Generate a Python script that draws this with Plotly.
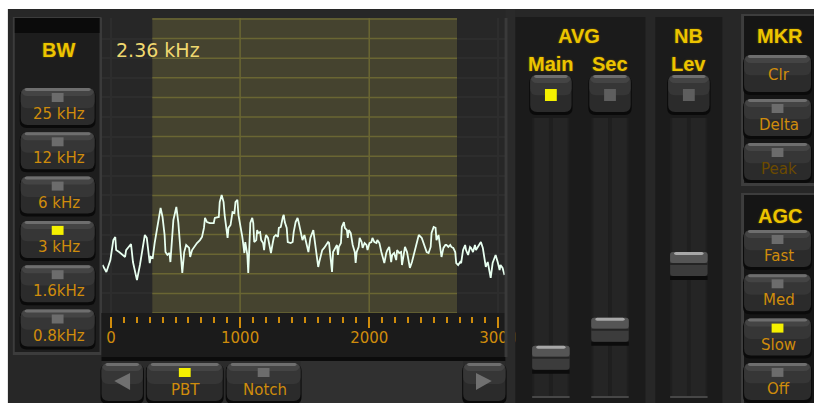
import plotly.graph_objects as go

# ---------------- data ----------------
freq_hz = [
    -66, -36, -5, 18, 33, 40, 63, 79, 94, 109, 117, 147, 155, 170, 185, 201, 224, 247, 262, 277,
    300, 308, 323, 338, 361, 376, 384, 399, 415, 422, 437, 453, 460, 483, 499, 506, 521, 537, 544, 552,
    567, 582, 605, 613, 628, 643, 666, 689,
    705, 720, 728, 743, 766, 796, 804, 835, 842, 857, 872, 880, 895, 903, 910, 926, 941, 956, 964, 979,
    987, 1002, 1017, 1025, 1033, 1040, 1056, 1063, 1071, 1079, 1094, 1102, 1109, 1125, 1132, 1140, 1155,
    1163, 1178, 1186, 1193, 1201, 1216, 1224, 1239, 1254, 1262, 1277, 1293, 1300, 1315, 1331, 1338, 1346,
    1361, 1369, 1392, 1407, 1415, 1430, 1445, 1453, 1468, 1483, 1498, 1514, 1529, 1544,
    1559, 1567, 1575, 1590, 1605, 1613, 1628, 1636, 1651, 1666, 1681, 1689, 1697, 1712, 1720, 1735, 1750,
    1758, 1765, 1781, 1788, 1804, 1811, 1827, 1834, 1842, 1857, 1872, 1888, 1895, 1903, 1918, 1926, 1941,
    1949, 1964, 1979, 1987, 2002, 2017, 2025, 2040, 2056, 2063, 2079, 2094, 2102, 2117, 2132, 2140, 2155,
    2170, 2178, 2193, 2209, 2216, 2232, 2247, 2254, 2262, 2277, 2293, 2300, 2315, 2331, 2346,
    2361, 2369, 2384, 2407, 2422, 2438, 2445, 2460, 2476, 2483, 2499, 2514, 2521, 2537, 2552, 2560, 2575,
    2590, 2598, 2613, 2628, 2636, 2651, 2666, 2674, 2689, 2705, 2712, 2727, 2743, 2750, 2766, 2781, 2789,
    2804, 2819, 2827, 2842, 2857, 2865, 2880, 2895, 2903, 2918, 2934, 2941, 2956, 2972, 2979, 2995, 3010,
    3017, 3033, 3048,
]
level = [
    24.5, 20.9, 27, 37.2, 38.8, 32.1, 31.1, 30.1, 29.6, 28.6, 32.1, 34.7, 35.2, 26, 21.9, 16.8, 24.5, 34.7, 39.8, 38.3,
    25.5, 28.6, 28.1, 35.7, 44.9, 51, 53.6, 49, 39.8, 31.1, 29.6, 30.6, 26, 47.4, 51.5, 54.1, 46.4, 34.7, 26, 20.4,
    31.1, 34.7, 33.2, 28.6, 32.1, 33.7, 35.7, 37.2,
    38.8, 43.4, 48.5, 46.4, 45.9, 45.9, 48.5, 49, 56.6, 60.2, 56.6, 50, 41.3, 38.3, 43.4, 44.9, 51.5, 51, 56.6, 57.7,
    50, 44.9, 38.8, 34.7, 30.6, 36.2, 29.6, 20.4, 39.8, 45.9, 48.5, 45.9, 36.2, 37.2, 42.3, 40.8, 41.3,
    37.2, 35.7, 32.1, 37.2, 39.8, 38.3, 35.7, 30.6, 36.2, 38.8, 39.8, 38.8, 43.4, 43.9, 49, 50, 46.4,
    43.4, 36.2, 35.7, 36.2, 41.3, 46.4, 48.5, 46.4, 41.3, 37.2, 39.8, 35.7, 31.1, 38.3,
    41.3, 42.3, 38.3, 31.1, 23.5, 26, 29.6, 32.1, 33.2, 34.7, 36.2, 35.7, 29.6, 20.9, 31.1, 33.2, 34.7,
    29.6, 33.7, 35.7, 43.9, 46.4, 43.4, 42.3, 38.3, 42.3, 40.8, 34.7, 31.1, 25.5, 31.1, 33.7, 38.3, 36.2,
    33.2, 35.7, 34.7, 32.1, 35.7, 36.2, 38.3, 36.2, 35.7, 37.2, 35.7, 31.1, 28.6, 25.5, 30.6, 32.1, 33.7,
    26, 29.6, 30.6, 27, 32.1, 30.6, 31.1, 24.5, 28.6, 33.7, 31.1, 28.6, 23, 26, 29.6,
    33.7, 35.7, 39.8, 38.3, 35.7, 33.2, 31.1, 30.6, 33.7, 40.8, 43.9, 43.4, 37.2, 39.8, 32.1, 28.6, 33.2,
    34.7, 34.7, 33.7, 34.7, 33.7, 33.2, 31.1, 25.5, 24.5, 26, 25.5, 32.1, 34.7, 32.1, 29.6, 33.7, 33.2,
    31.1, 34.7, 32.1, 33.7, 35.7, 36.2, 33.2, 25.5, 23.5, 26, 20.9, 17.9, 25.5, 28.6, 29.6, 26, 21.9,
    24.5, 23, 19.4,
]
x_tick_vals = [0, 1000, 2000, 3000]
x_tick_text = ["0", "1000", "2000", "3000"]
passband_hz = [320, 2680]
bandwidth_label = "2.36 kHz"
bw_buttons = ["25 kHz", "12 kHz", "6 kHz", "3 kHz", "1.6kHz", "0.8kHz"]
bw_selected = "3 kHz"
mkr_buttons = ["Clr", "Delta", "Peak"]
agc_buttons = ["Fast", "Med", "Slow", "Off"]
agc_selected = "Slow"
bottom_buttons = ["PBT", "Notch"]
bottom_selected = "PBT"
slider_names = ["Main", "Sec", "Lev"]
slider_on = ["Main"]
slider_pos = [0.10, 0.21, 0.47]

# ---------------- geometry helpers (screen px -> paper) ----------------
W, H = 826, 403


def X(sx):
    return sx / W


def Y(sy):
    return 1 - sy / H


shapes = []
annotations = []

AMBER = "#cf8c0c"
YEL = "#ecc400"
TXT_FONT = "DejaVu Sans"


def rect(x0, y0, x1, y1, fill, layer="above"):
    shapes.append(dict(type="rect", xref="paper", yref="paper",
                       x0=X(x0), x1=X(x1), y0=Y(y1), y1=Y(y0),
                       fillcolor=fill, line=dict(width=0), layer=layer))


def rrect(x0, y0, x1, y1, r, fill, layer="above"):
    X0, X1, Yt, Yb = X(x0), X(x1), Y(y0), Y(y1)
    rx, ry = r / W, r / H
    p = (f"M{X0+rx},{Yt} L{X1-rx},{Yt} Q{X1},{Yt} {X1},{Yt-ry} L{X1},{Yb+ry} "
         f"Q{X1},{Yb} {X1-rx},{Yb} L{X0+rx},{Yb} Q{X0},{Yb} {X0},{Yb+ry} "
         f"L{X0},{Yt-ry} Q{X0},{Yt} {X0+rx},{Yt} Z")
    shapes.append(dict(type="path", xref="paper", yref="paper", path=p,
                       fillcolor=fill, line=dict(width=0), layer=layer))


def text(sx, sy, s, size=15, color=AMBER, family=TXT_FONT, xanchor="center", shadow=None):
    f = dict(family=family, size=size, color=color)
    if shadow:
        f["shadow"] = shadow
    annotations.append(dict(xref="paper", yref="paper", x=X(sx), y=Y(sy), text=s,
                            showarrow=False, xanchor=xanchor, yanchor="middle", font=f))


def header(sx, sy, s):
    text(sx, sy, "<b>" + s + "</b>", size=20, color=YEL,
         family="Liberation Sans, Arial", shadow="0px 0px 2px #7a6000")


def button(x0, y0, x1, y1, label=None, ind=None, label_dy=26, label_color=AMBER):
    rrect(x0 - 1, y0 + 1, x1 + 1, y1 + 3, 7, "#0a0a0a")
    rrect(x0, y0, x1, y1, 7, "#2b2b2b")
    rrect(x0, y0, x1, y0 + (y1 - y0) * 0.55, 7, "#363636")
    rrect(x0 + 1, y0, x1 - 1, y0 + 8, 6, "#444444")
    rrect(x0 + 4, y0, x1 - 4, y0 + 3, 2, "#6e6e6e")
    cx = (x0 + x1) / 2
    if ind is not None:
        rect(cx - 6, y0 + 5, cx + 6, y0 + 14, "#f4f000" if ind else "#6c6c6c")
    if label is not None:
        text(cx + 1, y0 + label_dy, label, color=label_color)


# ---------------- background panels ----------------
rect(8, 9, 826, 403, "#272727", layer="below")
# BW panel
rect(13, 17, 103, 355, "#3c3c3c", layer="below")
rect(15, 18, 101, 352, "#1d1d1d", layer="below")
rect(15, 18, 101, 33, "#0b0b0b", layer="below")
# axis strip + bottom bar
rect(103, 313, 513, 357, "#1b1b1b", layer="below")
rect(103, 357, 513, 361, "#0c0c0c", layer="below")
rect(103, 361, 513, 403, "#2b2b2b", layer="below")
rect(305, 361, 470, 403, "#303030", layer="below")
# cover for tick gap below plot
rect(104, 313, 513, 317, "#1b1b1b")
# separator right of plot (also clips the last tick label)
rect(513, 9, 523, 403, "#2a2a2a")
rect(512, 18, 515, 357, "#3a3a3a")
# AVG / NB panels
rect(523, 17, 655, 403, "#1b1b1b")
rect(665, 17, 733, 403, "#1b1b1b")
# MKR / AGC panels
rect(752, 14, 826, 186, "#3d3d3d")
rect(755, 16, 826, 183, "#151515")
rect(752, 193, 826, 403, "#3d3d3d")
rect(755, 195, 826, 403, "#151515")

# ---------------- headers ----------------
header(59, 50, "BW")
header(588, 36, "AVG")
header(699, 36, "NB")
header(792, 36, "MKR")
header(792, 216, "AGC")
slider_x = [538, 598, 678]
for name, sx in zip(slider_names, slider_x):
    header(sx + 21, 64, name)

# ---------------- BW buttons ----------------
for i, lab in enumerate(bw_buttons):
    top = 88 + i * 44.3
    button(21, top, 96, top + 37, lab, ind=(lab == bw_selected))

# ---------------- MKR / AGC buttons ----------------
for i, lab in enumerate(mkr_buttons):
    top = 55 + i * 44
    if lab == "Clr":
        button(755, top, 823, top + 37, lab, ind=None, label_dy=20)
    else:
        button(755, top, 823, top + 37, lab, ind=False,
               label_color=("#6b4a00" if lab == "Peak" else AMBER))
for i, lab in enumerate(agc_buttons):
    top = 230 + i * 44.3
    button(755, top, 823, top + 37, lab, ind=(lab == agc_selected))

# ---------------- AVG / NB toggle buttons + sliders ----------------
for name, sx, pos in zip(slider_names, slider_x, slider_pos):
    button(sx, 75, sx + 42, 112, None, ind=None)
    on = name in slider_on
    rect(sx + 15, 89, sx + 27, 101, "#f4f000" if on else "#5e5e5e")
    # track
    tx0, tx1 = sx + 2, sx + 40
    rect(tx0, 118, tx1, 398, "#1f1f1f")
    rect(tx0 + 2, 118, tx0 + 17, 396, "#252525")
    rect(tx0 + 21, 118, tx1 - 2, 396, "#252525")
    rect(tx0, 396, tx1, 398, "#474747")
    # knob
    ktop = 118 + (1 - pos) * 253
    rect(tx0, ktop + 24, tx1, ktop + 28, "#0c0c0c")
    rrect(tx0, ktop, tx1, ktop + 24, 3, "#3c3c3c")
    rrect(tx0, ktop, tx1, ktop + 11, 3, "#555555")
    rrect(tx0 + 4, ktop, tx1 - 4, ktop + 3, 2, "#a8a8a8")
    rect(tx0, ktop + 11, tx1, ktop + 13, "#242424")

# ---------------- bottom buttons ----------------
button(103, 363, 145, 401)
shapes.append(dict(type="path", xref="paper", yref="paper",
                   path=f"M{X(116)},{Y(381)} L{X(132)},{Y(373)} L{X(132)},{Y(390)} Z",
                   fillcolor="#707070", line=dict(width=0), layer="above"))
button(470, 363, 513, 401)
shapes.append(dict(type="path", xref="paper", yref="paper",
                   path=f"M{X(499)},{Y(381)} L{X(483)},{Y(373)} L{X(483)},{Y(390)} Z",
                   fillcolor="#707070", line=dict(width=0), layer="above"))
for lab, (bx0, bx1) in zip(bottom_buttons, [(149, 226), (230, 305)]):
    button(bx0, 363, bx1, 401, lab, ind=(lab == bottom_selected), label_dy=27)

# ---------------- plot decorations (data coords) ----------------
ymax = 150.5
shapes.append(dict(type="rect", xref="x", yref="y", x0=passband_hz[0], x1=passband_hz[1],
                   y0=0, y1=ymax, fillcolor="#45432f", line=dict(width=0), layer="between"))
for yv in range(0, 151, 10):
    shapes.append(dict(type="line", xref="x", yref="y", x0=passband_hz[0], x1=passband_hz[1],
                       y0=yv, y1=yv, line=dict(color="#6a6633", width=1.5), layer="between"))
for xv in x_tick_vals:
    if passband_hz[0] < xv < passband_hz[1]:
        shapes.append(dict(type="line", xref="x", yref="y", x0=xv, x1=xv, y0=0, y1=ymax,
                           line=dict(color="#6a6633", width=1.5), layer="between"))

text(116, 50, bandwidth_label, size=19, color="#efd870", xanchor="left")

fig = go.Figure()
fig.add_trace(go.Scatter(x=freq_hz, y=level, mode="lines",
                         line=dict(color="#e8fff0", width=1.8), hoverinfo="skip",
                         showlegend=False))

fig.update_layout(
    width=W, height=H, autosize=False,
    margin=dict(l=0, r=0, t=0, b=0),
    paper_bgcolor="#ffffff", plot_bgcolor="#000000",
    shapes=shapes, annotations=annotations,
    xaxis=dict(domain=[X(104), X(513)], range=[-66, 3056], showgrid=True,
               gridcolor="#2d2d2d", gridwidth=1.5, zeroline=False,
               tickvals=x_tick_vals, ticktext=x_tick_text, ticks="outside", ticklen=14,
               tickwidth=2, tickcolor=AMBER, ticklabelstandoff=-3,
               tickfont=dict(family=TXT_FONT, size=15, color=AMBER),
               minor=dict(ticks="outside", ticklen=9, tickwidth=2, tickcolor=AMBER,
                          dtick=100, tick0=0, showgrid=False),
               showline=False),
    yaxis=dict(domain=[Y(313), Y(18)], range=[0, ymax], dtick=10, showgrid=True,
               gridcolor="#2d2d2d", gridwidth=1.5, zeroline=False, showticklabels=False,
               ticks="", showline=True, linecolor="#3a3a3a", linewidth=2, mirror=True),
)

fig.write_html("out.html", config={"displayModeBar": False},
               post_script="document.body.style.margin='0px';document.body.style.overflow='hidden';")
